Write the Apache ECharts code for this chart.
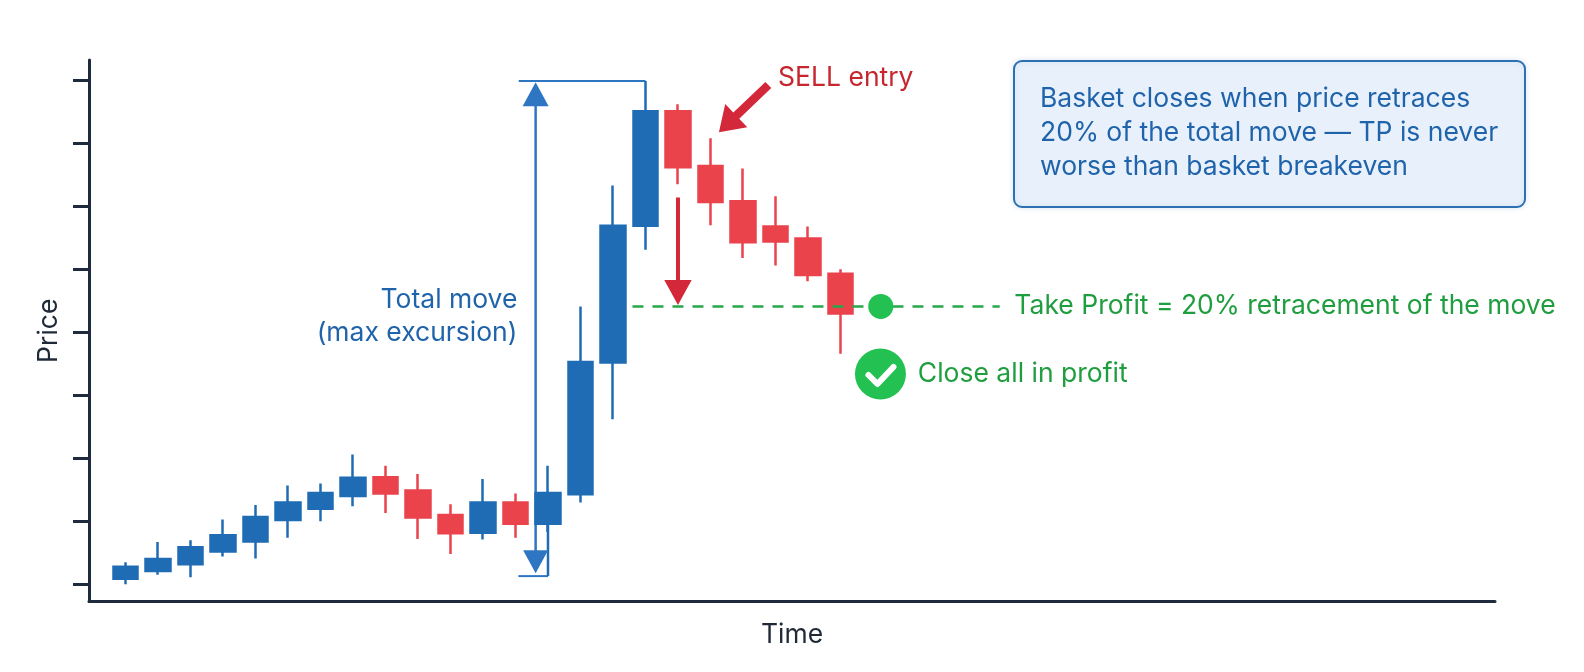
<!DOCTYPE html>
<html style="height: 100%">
<head>
  <meta charset="utf-8">
  <script src="https://cdn.jsdelivr.net/npm/echarts@6.0.0/dist/echarts.min.js"></script>
</head>
<body style="height: 100%; margin: 0; background: #ffffff">
  <div id="container" style="width: 1584px; height: 672px"></div>
  <script>
    // candle data (time index, OHLC in price units, one tick = 10)
    var times  = [1, 2, 3, 4, 5, 6, 7, 8, 9, 10, 11, 12, 13, 14, 15, 16, 17, 18, 19, 20, 21, 22, 23];
    var opens  = [0.9, 2.1, 3.2, 5.2, 6.8, 10.2, 12.0, 14.0, 17.0, 14.9, 11.0, 8.2, 13.0, 9.6, 14.3, 35.2, 56.9, 75.1, 66.4, 60.8, 56.8, 54.9, 49.3];
    var closes = [2.8, 4.0, 5.9, 7.8, 10.7, 13.0, 14.5, 16.9, 14.4, 10.6, 8.1, 13.0, 9.6, 14.5, 35.3, 56.9, 75.1, 66.2, 60.7, 54.3, 54.4, 49.1, 43.0];
    var lows   = [0.0, 1.5, 1.1, 4.4, 4.1, 7.4, 10.0, 12.4, 11.3, 7.2, 4.8, 7.1, 7.4, 8.3, 13.0, 26.2, 53.1, 63.5, 57.0, 51.8, 50.6, 48.1, 36.6];
    var highs  = [3.5, 6.7, 7.0, 10.3, 12.6, 15.7, 16.0, 20.6, 18.8, 17.5, 12.7, 16.7, 14.4, 18.8, 44.1, 63.3, 79.9, 76.2, 70.8, 66.0, 61.6, 56.8, 50.0];
    var priceTicks = [0, 10, 20, 30, 40, 50, 60, 70, 80];

    // take profit level and where the dashed line runs
    var tpLevel = 44.1;
    var tpLine = [16.6, 27.9];
    var tpDot = 24.24;

    // total move bracket
    var moveHigh = 79.9;
    var moveLow = 1.3;

    var infoLines = [
      'Basket closes when price retraces',
      '20% of the total move \u2014 TP is never',
      'worse than basket breakeven'
    ];

    var FONT = 'Inter, "Noto Sans", sans-serif';
    var upColor = '#1f6cb5';
    var downColor = '#ea434c';
    var axisColor = '#1e2b3c';
    var blueText = '#1f63ab';
    var redText = '#c8262f';
    var greenText = '#1f9e3f';
    var greenFill = '#22c152';

    var candles = times.map(function (t, i) {
      return [t, opens[i], closes[i], lows[i], highs[i]];
    });

    var dom = document.getElementById('container');
    var myChart = echarts.init(dom);

    var option = {
      animation: false,
      grid: {
        left: 89,
        right: 89,
        top: 60,
        bottom: 70.5,
        containLabel: false,
        outerBoundsMode: 'none'
      },
      xAxis: {
        type: 'value',
        min: -0.123,
        max: 43.14,
        name: 'Time',
        nameLocation: 'middle',
        nameGap: 20,
        nameTextStyle: { fontFamily: FONT, fontSize: 26.5, color: '#1f2937', verticalAlign: 'top' },
        axisLine: { show: true, onZero: false, lineStyle: { color: axisColor, width: 3 } },
        axisTick: { show: false },
        axisLabel: { show: false },
        splitLine: { show: false }
      },
      yAxis: {
        type: 'value',
        min: -2.73,
        max: 83.22,
        name: 'Price',
        nameLocation: 'middle',
        nameRotate: 90,
        nameGap: 26,
        nameTextStyle: { fontFamily: FONT, fontSize: 26.5, color: '#1f2937' },
        axisLine: { show: true, onZero: false, lineStyle: { color: axisColor, width: 3 } },
        axisTick: {
          show: true,
          inside: false,
          length: 16,
          customValues: priceTicks,
          lineStyle: { color: axisColor, width: 3 }
        },
        axisLabel: { show: false },
        splitLine: { show: false }
      },
      series: [
        {
          type: 'candlestick',
          data: candles,
          barWidth: 25,
          itemStyle: {
            color: upColor,
            color0: downColor,
            borderColor: upColor,
            borderColor0: downColor,
            borderWidth: 2.5
          }
        },
        {
          type: 'line',
          data: [[tpLine[0], tpLevel], [tpLine[1], tpLevel]],
          symbol: 'none',
          lineStyle: { color: '#27a849', width: 2.5, type: [11, 9] },
          z: 3
        },
        {
          type: 'scatter',
          data: [[tpDot, tpLevel]],
          symbol: 'circle',
          symbolSize: 25,
          itemStyle: { color: greenFill, opacity: 1 },
          z: 4
        }
      ]
    };
    myChart.setOption(option);

    function px(x, y) {
      return myChart.convertToPixel({ gridIndex: 0 }, [x, y]);
    }

    function arrowPoints(tail, tip, headLen, headHalf, shaft) {
      var dx = tip[0] - tail[0], dy = tip[1] - tail[1];
      var len = Math.sqrt(dx * dx + dy * dy);
      var ux = dx / len, uy = dy / len, nx = -uy, ny = ux;
      var bx = tip[0] - ux * headLen, by = tip[1] - uy * headLen;
      var s = shaft / 2;
      return [
        [tail[0] + nx * s, tail[1] + ny * s],
        [bx + nx * s, by + ny * s],
        [bx + nx * headHalf, by + ny * headHalf],
        tip,
        [bx - nx * headHalf, by - ny * headHalf],
        [bx - nx * s, by - ny * s],
        [tail[0] - nx * s, tail[1] - ny * s]
      ];
    }

    function headPoints(tip, dir, headLen, headHalf) {
      var bx = tip[0] - dir[0] * headLen, by = tip[1] - dir[1] * headLen;
      return [[bx - dir[1] * headHalf, by + dir[0] * headHalf], tip, [bx + dir[1] * headHalf, by - dir[0] * headHalf]];
    }

    var bracketColor = '#2f76c2';
    var topL = px(13.1, moveHigh), topR = px(17, moveHigh);
    var botL = px(13.09, moveLow), botR = px(14, moveLow), botUp = px(14, 9.6);
    var upTip = px(13.62, 79.68), downTip = px(13.62, 1.75);
    var sellTail = px(20.78, 79.25), sellTip = px(19.26, 71.75);
    var dropTail = px(18, 61.4), dropTip = px(18, 44.33);
    var check = px(24.23, 33.38);

    var graphics = [
      // total move bracket
      { type: 'line', shape: { x1: topL[0], y1: topL[1], x2: topR[0], y2: topR[1] }, style: { stroke: bracketColor, lineWidth: 2 } },
      { type: 'line', shape: { x1: botL[0], y1: botL[1], x2: botR[0], y2: botR[1] }, style: { stroke: bracketColor, lineWidth: 2 } },
      { type: 'line', shape: { x1: botR[0], y1: botR[1], x2: botUp[0], y2: botUp[1] }, style: { stroke: upColor, lineWidth: 2.5 } },
      { type: 'line', shape: { x1: upTip[0], y1: upTip[1] + 20, x2: downTip[0], y2: downTip[1] - 20 }, style: { stroke: bracketColor, lineWidth: 2.5 } },
      { type: 'polygon', shape: { points: headPoints(upTip, [0, -1], 24, 13) }, style: { fill: bracketColor } },
      { type: 'polygon', shape: { points: headPoints(downTip, [0, 1], 23, 12.5) }, style: { fill: bracketColor } },
      {
        type: 'text',
        style: {
          x: px(13.06, 0)[0], y: px(0, 42.5)[1],
          text: 'Total move\n(max excursion)',
          align: 'right', verticalAlign: 'middle', lineHeight: 33,
          fill: blueText, font: '26.5px ' + FONT
        }
      },
      // SELL entry arrow
      { type: 'polygon', z: 10, shape: { points: arrowPoints(sellTail, sellTip, 24, 16, 8.5) }, style: { fill: '#d3283a' } },
      {
        type: 'text',
        style: {
          x: px(21.08, 0)[0], y: px(0, 80.3)[1],
          text: 'SELL entry', align: 'left', verticalAlign: 'middle',
          fill: redText, font: '26.5px ' + FONT
        }
      },
      // drop arrow to TP
      { type: 'polygon', z: 10, shape: { points: arrowPoints(dropTail, dropTip, 25, 13.7, 4) }, style: { fill: '#d3283a' } },
      // TP label
      {
        type: 'text',
        style: {
          x: px(28.35, 0)[0], y: px(0, tpLevel)[1],
          text: 'Take Profit = 20% retracement of the move', align: 'left', verticalAlign: 'middle',
          fill: greenText, font: '26.5px ' + FONT
        }
      },
      // close all check
      { type: 'circle', shape: { cx: check[0], cy: check[1], r: 25.5 }, style: { fill: greenFill } },
      {
        type: 'polyline',
        shape: { points: [[check[0] - 12, check[1] + 1], [check[0] - 3, check[1] + 10], [check[0] + 13, check[1] - 7]] },
        style: { stroke: '#ffffff', lineWidth: 6, lineCap: 'round', lineJoin: 'round', fill: null }
      },
      {
        type: 'text',
        style: {
          x: px(25.38, 0)[0], y: check[1],
          text: 'Close all in profit', align: 'left', verticalAlign: 'middle',
          fill: greenText, font: '26.5px ' + FONT
        }
      },
      // info box
      {
        type: 'rect',
        shape: { x: 1014, y: 61, width: 511, height: 146, r: 8 },
        style: { fill: '#e8f1fb', stroke: '#2d6fb3', lineWidth: 2, shadowBlur: 6, shadowColor: 'rgba(45,111,179,0.15)' }
      },
      {
        type: 'text',
        style: {
          x: 1040, y: 82,
          text: infoLines.join('\n'), align: 'left', verticalAlign: 'top', lineHeight: 34,
          fill: blueText, font: '26.5px ' + FONT
        }
      }
    ];

    myChart.setOption({ graphic: graphics });
  </script>
</body>
</html>
